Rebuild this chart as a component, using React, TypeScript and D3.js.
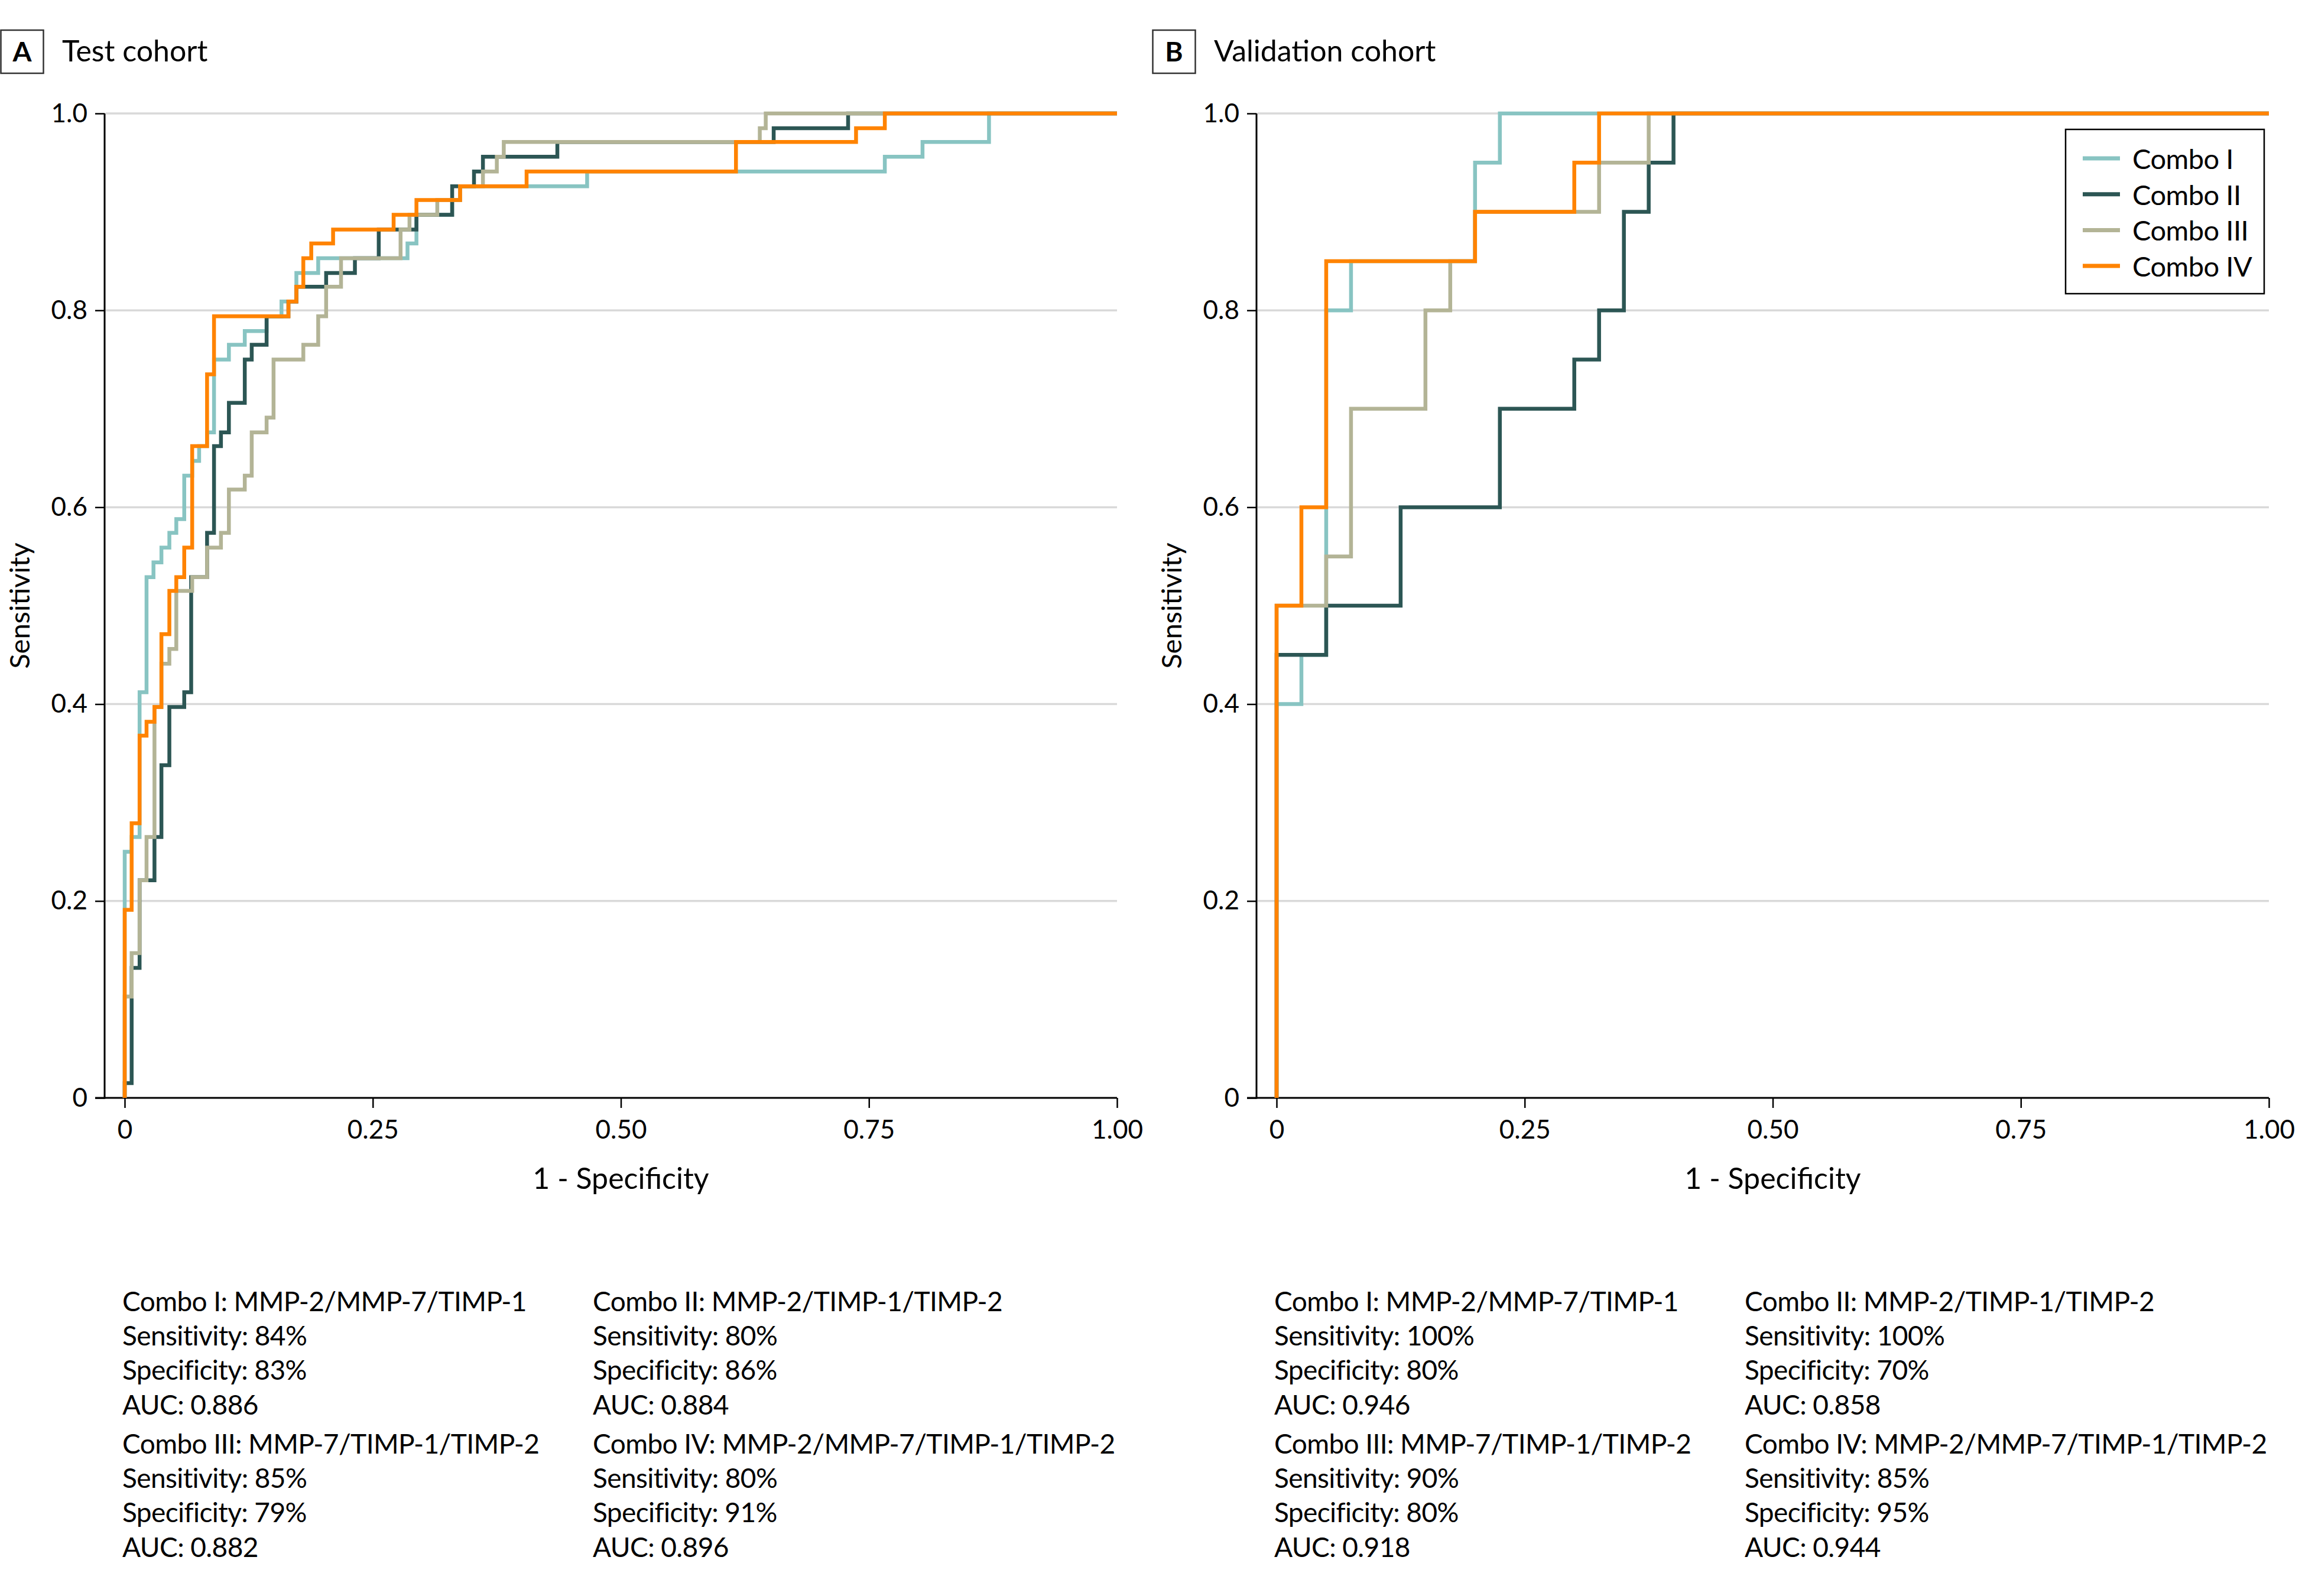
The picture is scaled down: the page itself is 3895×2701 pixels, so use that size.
import * as d3 from "d3";
import { useEffect, useRef } from "react";

// ---- 系列名稱與顏色 ----
const comboNames = ["Combo I", "Combo II", "Combo III", "Combo IV"];
const comboColors = ["#88c4c2", "#2c5654", "#b3b496", "#ff8300"];

// ---- A: Test cohort (fpr = end of each horizontal run, tpr = its level) ----
const testFprI = [0, 0.007, 0.015, 0.022, 0.029, 0.037, 0.045, 0.052, 0.06, 0.068, 0.075, 0.083, 0.09, 0.105, 0.121, 0.143, 0.158, 0.173, 0.195, 0.285, 0.294, 0.33, 0.338, 0.466, 0.766, 0.804, 0.871, 1];
const testTprI = [0, 0.25, 0.265, 0.412, 0.529, 0.544, 0.559, 0.574, 0.588, 0.632, 0.647, 0.662, 0.676, 0.75, 0.765, 0.779, 0.794, 0.809, 0.838, 0.853, 0.868, 0.897, 0.912, 0.926, 0.941, 0.956, 0.971, 1];
const testFprII = [0, 0.007, 0.015, 0.03, 0.037, 0.045, 0.06, 0.067, 0.083, 0.09, 0.097, 0.105, 0.121, 0.128, 0.143, 0.165, 0.173, 0.203, 0.232, 0.256, 0.294, 0.33, 0.352, 0.361, 0.436, 0.654, 0.729, 1];
const testTprII = [0, 0.015, 0.132, 0.221, 0.265, 0.338, 0.397, 0.412, 0.529, 0.574, 0.662, 0.676, 0.706, 0.75, 0.765, 0.794, 0.809, 0.824, 0.838, 0.853, 0.882, 0.897, 0.926, 0.941, 0.956, 0.971, 0.985, 1];
const testFprIII = [0, 0.007, 0.015, 0.022, 0.03, 0.037, 0.045, 0.052, 0.068, 0.083, 0.097, 0.105, 0.121, 0.128, 0.143, 0.15, 0.18, 0.195, 0.203, 0.218, 0.278, 0.287, 0.315, 0.338, 0.361, 0.375, 0.382, 0.64, 0.646, 1];
const testTprIII = [0, 0.103, 0.147, 0.221, 0.265, 0.397, 0.441, 0.456, 0.515, 0.529, 0.559, 0.574, 0.618, 0.632, 0.676, 0.691, 0.75, 0.765, 0.794, 0.824, 0.853, 0.882, 0.897, 0.912, 0.926, 0.941, 0.956, 0.971, 0.985, 1];
const testFprIV = [0, 0.007, 0.015, 0.022, 0.03, 0.037, 0.045, 0.052, 0.06, 0.068, 0.083, 0.09, 0.165, 0.173, 0.18, 0.188, 0.21, 0.271, 0.294, 0.338, 0.405, 0.616, 0.737, 0.766, 1];
const testTprIV = [0, 0.191, 0.279, 0.368, 0.382, 0.397, 0.471, 0.515, 0.529, 0.559, 0.662, 0.735, 0.794, 0.809, 0.824, 0.853, 0.868, 0.882, 0.897, 0.912, 0.926, 0.941, 0.971, 0.985, 1];

// ---- B: Validation cohort ----
const validFprI = [0, 0.025, 0.05, 0.075, 0.2, 0.225, 1];
const validTprI = [0, 0.4, 0.45, 0.8, 0.85, 0.95, 1];
const validFprII = [0, 0.05, 0.125, 0.225, 0.3, 0.325, 0.35, 0.375, 0.4, 1];
const validTprII = [0, 0.45, 0.5, 0.6, 0.7, 0.75, 0.8, 0.9, 0.95, 1];
const validFprIII = [0, 0.05, 0.075, 0.15, 0.175, 0.2, 0.325, 0.375, 1];
const validTprIII = [0, 0.5, 0.55, 0.7, 0.8, 0.85, 0.9, 0.95, 1];
const validFprIV = [0, 0.025, 0.05, 0.2, 0.3, 0.325, 1];
const validTprIV = [0, 0.5, 0.6, 0.85, 0.9, 0.95, 1];

// ---- 刻度 ----
const xTicks = [0, 0.25, 0.5, 0.75, 1];
const xTickLabels = ["0", "0.25", "0.50", "0.75", "1.00"];
const yTicks = [0, 0.2, 0.4, 0.6, 0.8, 1];
const yTickLabels = ["0", "0.2", "0.4", "0.6", "0.8", "1.0"];

// ---- 下方說明文字 ----
const testNotes = [
  ["Combo I: MMP-2/MMP-7/TIMP-1", "Sensitivity: 84%", "Specificity: 83%", "AUC: 0.886"],
  ["Combo II: MMP-2/TIMP-1/TIMP-2", "Sensitivity: 80%", "Specificity: 86%", "AUC: 0.884"],
  ["Combo III: MMP-7/TIMP-1/TIMP-2", "Sensitivity: 85%", "Specificity: 79%", "AUC: 0.882"],
  ["Combo IV: MMP-2/MMP-7/TIMP-1/TIMP-2", "Sensitivity: 80%", "Specificity: 91%", "AUC: 0.896"],
];
const validNotes = [
  ["Combo I: MMP-2/MMP-7/TIMP-1", "Sensitivity: 100%", "Specificity: 80%", "AUC: 0.946"],
  ["Combo II: MMP-2/TIMP-1/TIMP-2", "Sensitivity: 100%", "Specificity: 70%", "AUC: 0.858"],
  ["Combo III: MMP-7/TIMP-1/TIMP-2", "Sensitivity: 90%", "Specificity: 80%", "AUC: 0.918"],
  ["Combo IV: MMP-2/MMP-7/TIMP-1/TIMP-2", "Sensitivity: 85%", "Specificity: 95%", "AUC: 0.944"],
];

const FONT = "Lato, 'Open Sans', sans-serif";

export default function App() {
  const svgRef = useRef<SVGSVGElement | null>(null);

  useEffect(() => {
    const width = 3895;
    const height = 2701;
    const svg = d3.select(svgRef.current);
    svg.selectAll("*").remove();
    svg.attr("viewBox", `0 0 ${width} ${height}`);
    svg.append("rect").attr("width", width).attr("height", height).attr("fill", "#fff");

    const panels = [
      {
        dx: 0, letter: "A", title: "Test cohort", notes: testNotes, legend: false,
        fpr: [testFprI, testFprII, testFprIII, testFprIV],
        tpr: [testTprI, testTprII, testTprIII, testTprIV],
      },
      {
        dx: 1949, letter: "B", title: "Validation cohort", notes: validNotes, legend: true,
        fpr: [validFprI, validFprII, validFprIII, validFprIV],
        tpr: [validTprI, validTprII, validTprIII, validTprIV],
      },
    ];

    panels.forEach((p) => {
      const g = svg.append("g").attr("font-family", FONT);
      const x = d3.scaleLinear().domain([0, 1]).range([p.dx + 211, p.dx + 1890]);
      const y = d3.scaleLinear().domain([0, 1]).range([1858, 192]);
      const axisX = p.dx + 177; // y 軸線往左偏移

      // ---- 標題 ----
      g.append("rect")
        .attr("x", p.dx + 1.5).attr("y", 51).attr("width", 72).attr("height", 73)
        .attr("fill", "none").attr("stroke", "#333").attr("stroke-width", 2.5);
      g.append("text")
        .attr("x", p.dx + 37.5).attr("y", 104).attr("text-anchor", "middle")
        .attr("font-size", 46).attr("font-weight", 700).text(p.letter);
      g.append("text")
        .attr("x", p.dx + 105).attr("y", 104).attr("font-size", 50).text(p.title);

      // ---- 網格線 ----
      g.append("g")
        .selectAll("line")
        .data(yTicks.filter((d) => d > 0))
        .join("line")
        .attr("x1", axisX + 2).attr("x2", x(1))
        .attr("y1", (d) => y(d)).attr("y2", (d) => y(d))
        .attr("stroke", "#d9d9d9").attr("stroke-width", 3.5);

      // ---- 座標軸 ----
      const yAxis = g.append("g")
        .attr("transform", `translate(${axisX},0)`)
        .call(d3.axisLeft(y).tickValues(yTicks).tickFormat((_, i) => yTickLabels[i])
          .tickSize(16).tickPadding(13).tickSizeOuter(0));
      yAxis.select(".domain").remove();

      const xAxis = g.append("g")
        .attr("transform", `translate(0,${y(0)})`)
        .call(d3.axisBottom(x).tickValues(xTicks).tickFormat((_, i) => xTickLabels[i])
          .tickSize(17).tickPadding(21).tickSizeOuter(0));
      xAxis.select(".domain").remove();

      [yAxis, xAxis].forEach((a) => {
        a.selectAll("line").attr("stroke", "#000").attr("stroke-width", 2.5);
        a.selectAll("text").attr("font-size", 44).attr("font-family", FONT).attr("fill", "#000");
      });

      g.append("line")
        .attr("x1", axisX).attr("x2", axisX).attr("y1", y(1)).attr("y2", y(0) + 1.5)
        .attr("stroke", "#000").attr("stroke-width", 3);
      g.append("line")
        .attr("x1", axisX - 16).attr("x2", x(1)).attr("y1", y(0)).attr("y2", y(0))
        .attr("stroke", "#000").attr("stroke-width", 3);

      g.append("text")
        .attr("transform", `translate(${p.dx + 50},${(y(0) + y(1)) / 2}) rotate(-90)`)
        .attr("text-anchor", "middle").attr("font-size", 47).text("Sensitivity");
      g.append("text")
        .attr("x", (x(0) + x(1)) / 2).attr("y", 2012)
        .attr("text-anchor", "middle").attr("font-size", 50).text("1 - Specificity");

      // ---- ROC 階梯線 ----
      const line = d3.line<[number, number]>()
        .x((d) => x(d[0]))
        .y((d) => y(d[1]))
        .curve(d3.curveStepBefore);
      comboNames.forEach((_, i) => {
        g.append("path")
          .datum(d3.zip(p.fpr[i], p.tpr[i]) as [number, number][])
          .attr("d", line)
          .attr("fill", "none")
          .attr("stroke", comboColors[i])
          .attr("stroke-width", 6.5)
          .attr("stroke-linejoin", "miter");
      });

      // ---- 圖例 ----
      if (p.legend) {
        const lg = g.append("g");
        lg.append("rect")
          .attr("x", 3495).attr("y", 219).attr("width", 336).attr("height", 278)
          .attr("fill", "#fff").attr("stroke", "#000").attr("stroke-width", 2.5);
        comboNames.forEach((name, i) => {
          const cy = 268 + i * 60.7;
          lg.append("line")
            .attr("x1", 3524).attr("x2", 3587).attr("y1", cy).attr("y2", cy)
            .attr("stroke", comboColors[i]).attr("stroke-width", 7);
          lg.append("text")
            .attr("x", 3608).attr("y", cy + 18).attr("font-size", 47)
            .attr("letter-spacing", -0.5).text(name);
        });
      }

      // ---- 說明文字 ----
      const colX = [p.dx + 207, p.dx + 1003];
      const rowY = [2219, 2460];
      p.notes.forEach((lines, i) => {
        const t = g.append("text")
          .attr("x", colX[i % 2]).attr("y", rowY[Math.floor(i / 2)])
          .attr("font-size", 46).attr("letter-spacing", -0.6);
        lines.forEach((s, j) => {
          t.append("tspan").attr("x", colX[i % 2]).attr("dy", j === 0 ? 0 : 58.2).text(s);
        });
      });
    });
  }, []);

  return (
    <svg
      ref={svgRef}
      width={3895}
      height={2701}
      style={{ position: "absolute", left: 0, top: 0, display: "block" }}
    />
  );
}
